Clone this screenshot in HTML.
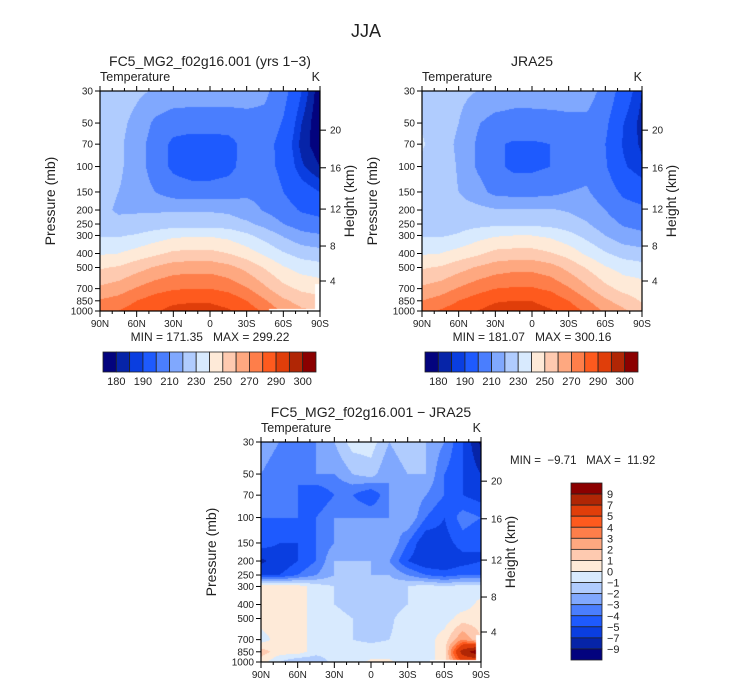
<!DOCTYPE html>
<html><head><meta charset="utf-8">
<style>
body{margin:0;background:#fff;width:733px;height:686px;overflow:hidden;position:relative;font-family:"Liberation Sans",sans-serif;}
canvas{position:absolute;}
svg{position:absolute;left:0;top:0;}
text{font-family:"Liberation Sans",sans-serif;fill:#222;white-space:pre;}
</style></head>
<body>
<canvas id="c1" width="220" height="220" style="left:100px;top:91px"></canvas>
<canvas id="c2" width="220" height="220" style="left:422px;top:91px"></canvas>
<canvas id="c3" width="220" height="220" style="left:261px;top:442px"></canvas>
<svg id="ov" width="733" height="686"></svg>
<script>
const lats=[90,75,60,45,30,15,0,-15,-30,-45,-60,-75,-90];
const plevs=[30,50,70,100,150,200,250,300,400,500,700,850,1000];
const modelT=[
[226,225,222,219,217,216,216,216,215,212,204,190,176],
[226,223,217,208,204,204,204,204,206,207,199,185,175],
[225,222,215,205,198,196,196,197,203,204,196,183,176],
[224,222,215,205,198,195,195,197,204,204,197,186,180],
[223,220,216,210,205,204,204,205,208,207,200,194,190],
[222,219,219,219,219,219,219,218,214,209,204,199,197],
[224,222,223,224,226,226,226,225,222,217,210,205,203],
[229,229,231,235,238,239,239,237,232,226,219,213,211],
[239,240,244,248,252,253,253,250,245,238,231,226,224],
[249,251,256,261,265,266,266,263,257,249,241,236,234],
[262,265,271,276,279,280,280,277,271,262,253,248,246],
[271,274,280,285,288,289,289,287,280,271,262,256,253],
[276,280,285,289,293,294,293,291,286,278,268,262,260]];
const jraT=[
[228,226,223,220,218,216,216,217,216,214,207,195,185],
[229,226,220,211,206,205,205,205,207,208,202,190,183],
[231,225,218,209,201,199,199,200,205,206,200,189,184],
[228,226,219,209,202,198,198,200,206,207,201,191,186],
[226,224,220,214,207,206,206,207,210,211,205,198,195],
[230,225,224,223,221,221,221,221,219,215,210,204,202],
[229,227,226,227,228,228,228,227,225,221,214,209,207],
[229,229,231,236,239,240,240,238,233,227,220,214,212],
[239,240,244,248,253,254,254,251,246,238,231,226,224],
[249,251,256,261,265,267,267,264,257,249,241,236,234],
[262,265,271,276,280,281,281,278,271,262,253,247,245],
[270,274,280,285,289,290,290,287,280,271,262,255,249],
[276,281,286,290,294,295,293,291,286,278,268,262,255]];
const diffT=[
[-2,-3,-3,-3,-2,-0.5,-0.5,-2,-1,-2,-3,-5,-9.5],
[-3,-4,-4,-3,-3,-2,-1.5,-3,-2,-2,-4,-5,-7],
[-4,-4,-4,-5,-4,-4,-5,-3,-2,-3,-4,-5,-5.5],
[-4,-4,-4,-4,-3,-3,-3,-3,-2,-4,-5,-3.5,-4],
[-4,-5,-5,-4,-3,-2.5,-2.5,-2,-4,-6,-5.5,-4.5,-5],
[-7.5,-6,-5,-4,-2,-2,-2,-3,-5,-6,-6,-5.5,-5],
[-5,-5,-4,-3,-2,-1.5,-2,-2,-3,-4,-4.5,-4,-4],
[0.5,0.5,0.5,-0.5,-1,-1,-1.5,-1.5,-1,-0.5,-1,-0.5,-0.5],
[0.5,0.5,0.5,-0.5,-1,-1.5,-1.5,-1.5,-1,-0.5,-0.5,-0.5,0.3],
[0.5,0.5,0.5,-0.5,-0.5,-1,-1.5,-1.2,-0.5,-0.5,-0.5,0.5,0.5],
[-0.5,0.5,0.5,-0.5,-0.5,-1,-1.2,-1,-0.5,-0.5,0.5,3,1],
[1.5,0.5,0.5,-0.5,-0.5,-0.5,-0.5,-0.5,-0.5,-0.5,0.5,8,11],
[0.5,-1,-2,-2,-0.5,-0.5,0.2,0.2,-0.5,-0.5,0.5,5,5]];
const tempLevels=[180,185,190,200,210,220,230,240,250,260,270,280,290,295,300];
const tempLabels=["180","190","210","230","250","270","290","300"];
const diffLevels=[-9,-7,-5,-4,-3,-2,-1,0,1,2,3,4,5,7,9];
const diffLabels=["9","7","5","4","3","2","1","0","−1","−2","−3","−4","−5","−7","−9"];
const palette=["#03037e","#0624a8","#0a3ee0","#1e5afe","#4a7efe","#80a8fe","#b0ccfe","#d8eafe","#feead8","#fecab0","#fea880","#fe7e4a","#fe5a1e","#e03e0a","#b02605","#8b0000"];
const pTicks=[30,50,70,100,150,200,250,300,400,500,700,850,1000];
const latTicks=[90,60,30,0,-30,-60,-90];
const latTickLabels=["90N","60N","30N","0","30S","60S","90S"];
const heightTicks=[4,8,12,16,20];
const heightPressure=[620,355,197,102,56];

const W=220,H=220,LN=Math.log(1000/30);
function yOf(p,top){return top+Math.log(p/30)/LN*H;}
function xOf(lat,left){return left+(90-lat)/180*W;}
function hex(c){return [parseInt(c.substr(1,2),16),parseInt(c.substr(3,2),16),parseInt(c.substr(5,2),16)];}
const rgb=palette.map(hex);
function fill(id,data,levels,mask){
  const cv=document.getElementById(id),ctx=cv.getContext('2d');
  const img=ctx.createImageData(W,H);
  for(let py=0;py<H;py++){
    const p=30*Math.exp((py+0.5)/H*LN);
    let k=0;while(k<plevs.length-2&&p>plevs[k+1])k++;
    const t=Math.min(1,Math.max(0,(Math.log(p)-Math.log(plevs[k]))/(Math.log(plevs[k+1])-Math.log(plevs[k]))));
    for(let px=0;px<W;px++){
      const fj=(px+0.5)/W*12;let j=Math.min(11,Math.floor(fj));const u=fj-j;
      const v=(1-t)*((1-u)*data[k][j]+u*data[k][j+1])+t*((1-u)*data[k+1][j]+u*data[k+1][j+1]);
      let ci=0;while(ci<levels.length&&v>=levels[ci])ci++;
      let c=rgb[ci];
      const lat=90-(px+0.5)/W*180;
      if(mask&&((lat<-48&&p>965)||(lat<-86&&p>650)))c=[255,255,255];
      const o=(py*W+px)*4;img.data[o]=c[0];img.data[o+1]=c[1];img.data[o+2]=c[2];img.data[o+3]=255;
    }
  }
  ctx.putImageData(img,0,0);
}
fill('c1',modelT,tempLevels,true);
fill('c2',jraT,tempLevels,false);
fill('c3',diffT,diffLevels,true);

const ov=document.getElementById('ov');
const NS='http://www.w3.org/2000/svg';
function el(tag,attrs,txt){const e=document.createElementNS(NS,tag);for(const k in attrs)e.setAttribute(k,attrs[k]);if(txt!==undefined)e.textContent=txt;ov.appendChild(e);return e;}
function txt(x,y,s,size,anchor,name,rot){
  const a={x:x,y:y,'font-size':size,'text-anchor':anchor||'middle'};
  if(rot)a.transform='rotate(-90 '+x+' '+y+')';
  const e=el('text',a,s);
  
  
  return e;
}
function panel(left,top,title,pre){
  const fr=el('rect',{x:left,y:top,width:W,height:H,fill:'none',stroke:'#000','stroke-width':1.2});
  
  
  txt(left+W/2,top-25,title,14,'middle',pre+'-title');
  txt(left,top-10,'Temperature',12.5,'start',pre+'-variable-label');
  txt(left+W,top-10,'K',12.5,'end',pre+'-units-label');
  pTicks.forEach((p,i)=>{
    const y=yOf(p,top);
    el('line',{x1:left-5,x2:left,y1:y,y2:y,stroke:'#000'});
    txt(left-7,y+3.5,String(p),10,'end','pressure-tick-'+p);
  });
  for(let lat=90;lat>=-90;lat-=10){
    const x=xOf(lat,left),major=lat%30===0;
    el('line',{x1:x,x2:x,y1:top+H,y2:top+H+(major?6:3),stroke:'#000'});
    el('line',{x1:x,x2:x,y1:top,y2:top-(major?5:3),stroke:'#000'});
  }
  latTicks.forEach((lat,i)=>{txt(xOf(lat,left),top+H+16,latTickLabels[i],10,'middle','lat-tick-'+latTickLabels[i]);});
  heightTicks.forEach((h,i)=>{
    const y=yOf(heightPressure[i],top);
    el('line',{x1:left+W,x2:left+W+6,y1:y,y2:y,stroke:'#000'});
    txt(left+W+10,y+3.5,String(h),10,'start','height-tick-'+h);
  });
  txt(left-45,top+H/2,'Pressure (mb)',14,'middle',pre+'-pressure-axis-title',true);
  txt(left+W+34,top+H/2,'Height (km)',14,'middle',pre+'-height-axis-title',true);
}
txt(366,37,'JJA',18,'middle','main-title');
panel(100,91,'FC5_MG2_f02g16.001 (yrs 1−3)','model');
panel(422,91,'JRA25','jra');
panel(261,442,'FC5_MG2_f02g16.001 − JRA25','diff');
txt(210,341,'MIN = 171.35   MAX = 299.22',12,'middle','model-minmax');
txt(532,341,'MIN = 181.07   MAX = 300.16',12,'middle','jra-minmax');
txt(510,464,'MIN =  −9.71   MAX =  11.92',11.5,'start','diff-minmax');

function hbar(left,top,pre){
  const bw=213/16;
  palette.forEach((c,i)=>{
    const r=el('rect',{x:left+i*bw,y:top,width:bw,height:20,fill:c,stroke:'#222','stroke-width':0.8});
    
    
  });
  tempLabels.forEach((s,i)=>{txt(left+(1+2*i)*bw,top+33,s,11,'middle',pre+'-colorbar-label-'+s);});
}
hbar(103,352,'model');
hbar(425,352,'jra');
const vbh=177/16;
palette.slice().reverse().forEach((c,i)=>{
  const r=el('rect',{x:571,y:483+i*vbh,width:31,height:vbh,fill:c,stroke:'#222','stroke-width':0.8});
  
  
});
diffLabels.forEach((s,i)=>{txt(607,483+(i+1)*vbh+4,s,11,'start','diff-colorbar-label');});
</script>
</body></html>
